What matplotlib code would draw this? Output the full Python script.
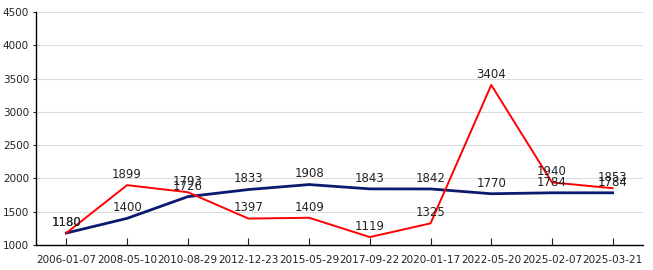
import matplotlib
matplotlib.use("Agg")
import matplotlib.pyplot as plt

categories = ["2006-01-07", "2008-05-10", "2010-08-29", "2012-12-23", "2015-05-29",
              "2017-09-22", "2020-01-17", "2022-05-20", "2025-02-07", "2025-03-21"]
red_values = [1180, 1899, 1793, 1397, 1409, 1119, 1325, 3404, 1940, 1853]
navy_values = [1180, 1400, 1726, 1833, 1908, 1843, 1842, 1770, 1784, 1784]
y_ticks = [1000, 1500, 2000, 2500, 3000, 3500, 4000, 4500]

fig = plt.figure(figsize=(6.53, 2.70), dpi=100)
ax = fig.add_axes([36/653, 25/270, (643-36)/653, (258-25)/270])

x = list(range(len(categories)))
ax.plot(x, navy_values, color="#0a1a6e", lw=2.0, zorder=3)
ax.plot(x, red_values, color="#ff0000", lw=1.4, zorder=4)

for xi, v in zip(x, red_values):
    ax.annotate(str(v), (xi, v), xytext=(0, 3), textcoords="offset points",
                ha="center", va="bottom", fontsize=8.5, color="#222222", zorder=5)
for xi, v in zip(x, navy_values):
    ax.annotate(str(v), (xi, v), xytext=(0, 3), textcoords="offset points",
                ha="center", va="bottom", fontsize=8.5, color="#222222", zorder=5)

ax.set_xlim(-0.5, len(categories) - 0.5)
ax.set_ylim(1000, 4500)
ax.set_yticks(y_ticks)
ax.set_xticks(x)
ax.set_xticklabels(categories)
ax.tick_params(axis="x", direction="in", length=5, labelsize=7.5, pad=7, colors="#222222")
ax.tick_params(axis="y", direction="out", length=2, labelsize=7.5, pad=3, colors="#222222")
ax.yaxis.grid(True, color="#dddddd", lw=0.8)
ax.set_axisbelow(True)
for s in ["top", "right"]:
    ax.spines[s].set_visible(False)
for s in ["left", "bottom"]:
    ax.spines[s].set_color("#000000")
    ax.spines[s].set_linewidth(1)

fig.savefig("out.png", dpi=100)
